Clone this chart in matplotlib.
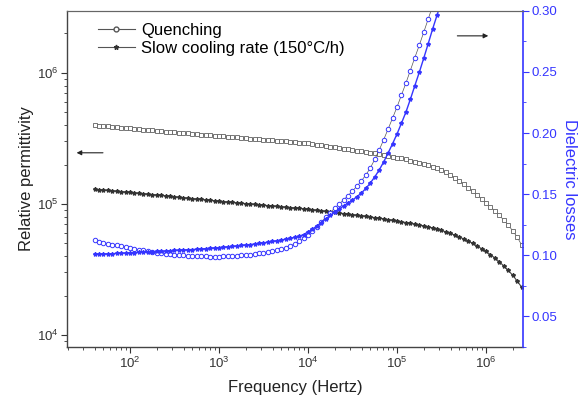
import numpy as np
import matplotlib
matplotlib.use("Agg")
import matplotlib.pyplot as plt
from matplotlib.ticker import LogLocator, MultipleLocator, NullFormatter

plt.rcParams['font.family'] = ['Liberation Sans', 'DejaVu Sans']
plt.rcParams['mathtext.fontset'] = 'custom'
plt.rcParams['mathtext.rm'] = 'Liberation Sans'

# Frequency sweep (Hz), 20 points per decade
freq = [40, 44.7, 50.1, 56.2, 63.1, 70.8, 79.4, 89.1,
        1.0e2, 1.12e2, 1.26e2, 1.41e2, 1.58e2, 1.78e2, 2.0e2, 2.24e2, 2.51e2, 2.82e2,
        3.16e2, 3.55e2, 3.98e2, 4.47e2, 5.01e2, 5.62e2, 6.31e2, 7.08e2, 7.94e2, 8.91e2,
        1.0e3, 1.12e3, 1.26e3, 1.41e3, 1.58e3, 1.78e3, 2.0e3, 2.24e3, 2.51e3, 2.82e3,
        3.16e3, 3.55e3, 3.98e3, 4.47e3, 5.01e3, 5.62e3, 6.31e3, 7.08e3, 7.94e3, 8.91e3,
        1.0e4, 1.12e4, 1.26e4, 1.41e4, 1.58e4, 1.78e4, 2.0e4, 2.24e4, 2.51e4, 2.82e4,
        3.16e4, 3.55e4, 3.98e4, 4.47e4, 5.01e4, 5.62e4, 6.31e4, 7.08e4, 7.94e4, 8.91e4,
        1.0e5, 1.12e5, 1.26e5, 1.41e5, 1.58e5, 1.78e5, 2.0e5, 2.24e5, 2.51e5, 2.82e5,
        3.16e5, 3.55e5, 3.98e5, 4.47e5, 5.01e5, 5.62e5, 6.31e5, 7.08e5, 7.94e5, 8.91e5,
        1.0e6, 1.12e6, 1.26e6, 1.41e6, 1.58e6, 1.78e6, 2.0e6, 2.24e6, 2.51e6]

# Relative permittivity
eps_quench = [3.99e5, 3.965e5, 3.94e5, 3.91e5, 3.88e5, 3.855e5, 3.83e5, 3.805e5,
              3.78e5, 3.75e5, 3.72e5, 3.695e5, 3.67e5, 3.645e5, 3.62e5, 3.595e5, 3.57e5, 3.55e5,
              3.53e5, 3.505e5, 3.48e5, 3.46e5, 3.44e5, 3.415e5, 3.39e5, 3.37e5, 3.35e5, 3.325e5,
              3.30e5, 3.28e5, 3.26e5, 3.24e5, 3.22e5, 3.20e5, 3.18e5, 3.155e5, 3.13e5, 3.115e5,
              3.10e5, 3.08e5, 3.06e5, 3.04e5, 3.02e5, 3.00e5, 2.98e5, 2.96e5, 2.94e5, 2.92e5,
              2.90e5, 2.87e5, 2.84e5, 2.805e5, 2.77e5, 2.74e5, 2.71e5, 2.68e5, 2.65e5, 2.615e5,
              2.58e5, 2.55e5, 2.52e5, 2.49e5, 2.46e5, 2.435e5, 2.41e5, 2.37e5, 2.33e5, 2.295e5,
              2.26e5, 2.225e5, 2.19e5, 2.145e5, 2.10e5, 2.06e5, 2.02e5, 1.975e5, 1.93e5, 1.88e5,
              1.82e5, 1.745e5, 1.66e5, 1.58e5, 1.50e5, 1.415e5, 1.33e5, 1.25e5, 1.17e5, 1.095e5,
              1.02e5, 9.5e4, 8.85e4, 8.2e4, 7.55e4, 6.9e4, 6.22e4, 5.6e4, 4.86e4]
eps_slow = [1.29e5, 1.283e5, 1.276e5, 1.268e5, 1.26e5, 1.252e5, 1.243e5, 1.234e5,
            1.225e5, 1.216e5, 1.207e5, 1.198e5, 1.189e5, 1.180e5, 1.171e5, 1.162e5, 1.153e5, 1.144e5,
            1.135e5, 1.126e5, 1.117e5, 1.108e5, 1.099e5, 1.090e5, 1.082e5, 1.074e5, 1.066e5, 1.058e5,
            1.050e5, 1.042e5, 1.035e5, 1.027e5, 1.020e5, 1.013e5, 1.007e5, 1.000e5, 9.93e4, 9.86e4,
            9.79e4, 9.72e4, 9.66e4, 9.59e4, 9.52e4, 9.45e4, 9.39e4, 9.32e4, 9.25e4, 9.18e4,
            9.11e4, 9.03e4, 8.95e4, 8.87e4, 8.79e4, 8.70e4, 8.61e4, 8.53e4, 8.45e4, 8.36e4,
            8.28e4, 8.20e4, 8.13e4, 8.04e4, 7.96e4, 7.87e4, 7.78e4, 7.69e4, 7.60e4, 7.50e4,
            7.41e4, 7.31e4, 7.22e4, 7.11e4, 7.01e4, 6.90e4, 6.79e4, 6.68e4, 6.56e4, 6.42e4,
            6.28e4, 6.12e4, 5.96e4, 5.78e4, 5.60e4, 5.41e4, 5.22e4, 5.00e4, 4.78e4, 4.56e4,
            4.34e4, 4.10e4, 3.87e4, 3.62e4, 3.37e4, 3.11e4, 2.85e4, 2.58e4, 2.32e4]

# Dielectric losses (both curves run off the top of the plot)
loss_quench = [0.1119, 0.1110, 0.1102, 0.1094, 0.1086, 0.1078, 0.1071, 0.1064,
               0.1057, 0.1050, 0.1043, 0.1037, 0.1031, 0.1025, 0.1020, 0.1015, 0.1011, 0.1007,
               0.1003, 0.1000, 0.0997, 0.0994, 0.0992, 0.0990, 0.0989, 0.0988, 0.0987, 0.0987,
               0.0987, 0.0988, 0.0989, 0.0991, 0.0993, 0.0996, 0.1000, 0.1004, 0.1008, 0.1014,
               0.1020, 0.1026, 0.1033, 0.1041, 0.1049, 0.1060, 0.1074, 0.1091, 0.1111, 0.1136,
               0.1164, 0.1196, 0.1230, 0.1270, 0.1311, 0.1348, 0.1385, 0.1418, 0.1451, 0.1487,
               0.1525, 0.1564, 0.1607, 0.1657, 0.1713, 0.1784, 0.1861, 0.1945, 0.2033, 0.2122,
               0.2213, 0.2310, 0.2410, 0.2512, 0.2615, 0.2720, 0.2828, 0.2934, 0.3041]
loss_slow = [0.1006, 0.1007, 0.1008, 0.1010, 0.1011, 0.1013, 0.1015, 0.1016,
             0.1018, 0.1020, 0.1021, 0.1023, 0.1025, 0.1027, 0.1029, 0.1031, 0.1033, 0.1035,
             0.1037, 0.1039, 0.1041, 0.1043, 0.1045, 0.1047, 0.1049, 0.1052, 0.1055, 0.1058,
             0.1061, 0.1064, 0.1067, 0.1070, 0.1074, 0.1078, 0.1082, 0.1086, 0.1090, 0.1095,
             0.1100, 0.1105, 0.1111, 0.1117, 0.1123, 0.1130, 0.1137, 0.1144, 0.1153, 0.1168,
             0.1189, 0.1212, 0.1238, 0.1266, 0.1295, 0.1324, 0.1352, 0.1377, 0.1402, 0.1426,
             0.1451, 0.1478, 0.1508, 0.1546, 0.1590, 0.1640, 0.1697, 0.1763, 0.1836, 0.1912,
             0.1992, 0.2079, 0.2172, 0.2275, 0.2385, 0.2498, 0.2615, 0.2732, 0.2852, 0.2967,
             0.3082]

assert len(freq) == len(eps_quench) == len(eps_slow)

GRAY = '#555555'
BLUE = '#3535ff'

fig = plt.figure(figsize=(5.84, 4.07), dpi=100)
ax = fig.add_axes([0.1147, 0.1474, 0.7808, 0.8256])
ax2 = ax.twinx()

# permittivity (left axis)
ax.plot(freq, eps_quench, color=GRAY, lw=0.5, marker='s', ms=3.0,
        mfc='white', mec='#606060', mew=0.6)
ax.plot(freq, eps_slow, color='#444444', lw=0.8, marker='*', ms=3.0,
        mfc='#333333', mec='#333333')

# losses (right axis)
ax2.plot(freq[:len(loss_quench)], loss_quench, color=GRAY, lw=0.5, marker='o', ms=3.2,
         mfc='white', mec=BLUE, mew=0.7)
ax2.plot(freq[:len(loss_slow)], loss_slow, color=BLUE, lw=1.0, marker='*', ms=3.0,
         mfc=BLUE, mec=BLUE)

ax.set_xscale('log')
ax.set_yscale('log')
ax.set_xlim(19.6, 2.6e6)
ax.set_ylim(8.1e3, 2.97e6)
ax2.set_ylim(0.0246, 0.30)

ax.xaxis.set_minor_locator(LogLocator(base=10, subs=np.arange(2, 10), numticks=12))
ax.xaxis.set_minor_formatter(NullFormatter())
ax.set_xticks([1e2, 1e3, 1e4, 1e5, 1e6])
ax.set_xticklabels(['$10^2$', '$10^3$', '$10^4$', '$10^5$', '$10^6$'])
ax.yaxis.set_minor_locator(LogLocator(base=10, subs=np.arange(2, 10), numticks=12))
ax.yaxis.set_minor_formatter(NullFormatter())
ax.set_yticks([1e4, 1e5, 1e6])
ax.set_yticklabels(['$10^4$', '$10^5$', '$10^6$'])

ax2.yaxis.set_minor_locator(MultipleLocator(0.025))
ax2.set_yticks([0.05, 0.10, 0.15, 0.20, 0.25, 0.30])
ax2.set_yticklabels(['0.05', '0.10', '0.15', '0.20', '0.25', '0.30'])

ax.tick_params(axis='both', which='major', direction='out', length=4, width=0.8,
               colors='#333333', labelsize=9.5, pad=2)
ax.tick_params(axis='both', which='minor', direction='out', length=2, width=0.6, colors='#333333')
ax2.tick_params(axis='y', which='major', direction='out', length=4, width=0.8,
                colors=BLUE, labelsize=9.5, pad=2)
ax2.tick_params(axis='y', which='minor', direction='out', length=2, width=0.6, colors=BLUE)

for sp in ['left', 'bottom']:
    ax.spines[sp].set_color('#444444')
    ax.spines[sp].set_linewidth(1.0)
ax.spines['top'].set_color('#666666')
ax.spines['right'].set_visible(False)
ax2.spines['left'].set_visible(False)
ax2.spines['bottom'].set_visible(False)
ax2.spines['top'].set_color('#666666')
ax2.spines['right'].set_color(BLUE)
ax2.spines['right'].set_linewidth(1.2)

ax.set_xlabel('Frequency (Hertz)', fontsize=12, color='#222222', labelpad=7)
ax.set_ylabel('Relative permittivity', fontsize=12, color='#222222', labelpad=2)
ax2.set_ylabel('Dielectric losses', fontsize=12, color=BLUE, rotation=270, labelpad=14)

# legend drawn with proxy handles like the original
h1, = ax.plot([], [], color=GRAY, lw=0.8, marker='o', ms=3.5, mfc='white', mec=GRAY)
h2, = ax.plot([], [], color=GRAY, lw=0.8, marker='*', ms=3.5, mfc='#333333', mec='#333333')
ax.legend([h1, h2], ['Quenching', 'Slow cooling rate (150°C/h)'], loc='upper left',
          bbox_to_anchor=(0.035, 1.01), frameon=False, fontsize=12, handlelength=2.2,
          handletextpad=0.4, labelspacing=0.2)

# arrows pointing at the axes
ax.annotate('', xy=(0.015, 0.578), xytext=(0.085, 0.578), xycoords='axes fraction',
            arrowprops=dict(arrowstyle='-|>', color='#222222', lw=0.8, mutation_scale=7))
ax.annotate('', xy=(0.93, 0.926), xytext=(0.85, 0.926), xycoords='axes fraction',
            arrowprops=dict(arrowstyle='-|>', color='#222222', lw=0.8, mutation_scale=7))

fig.savefig('out.png', dpi=100)
